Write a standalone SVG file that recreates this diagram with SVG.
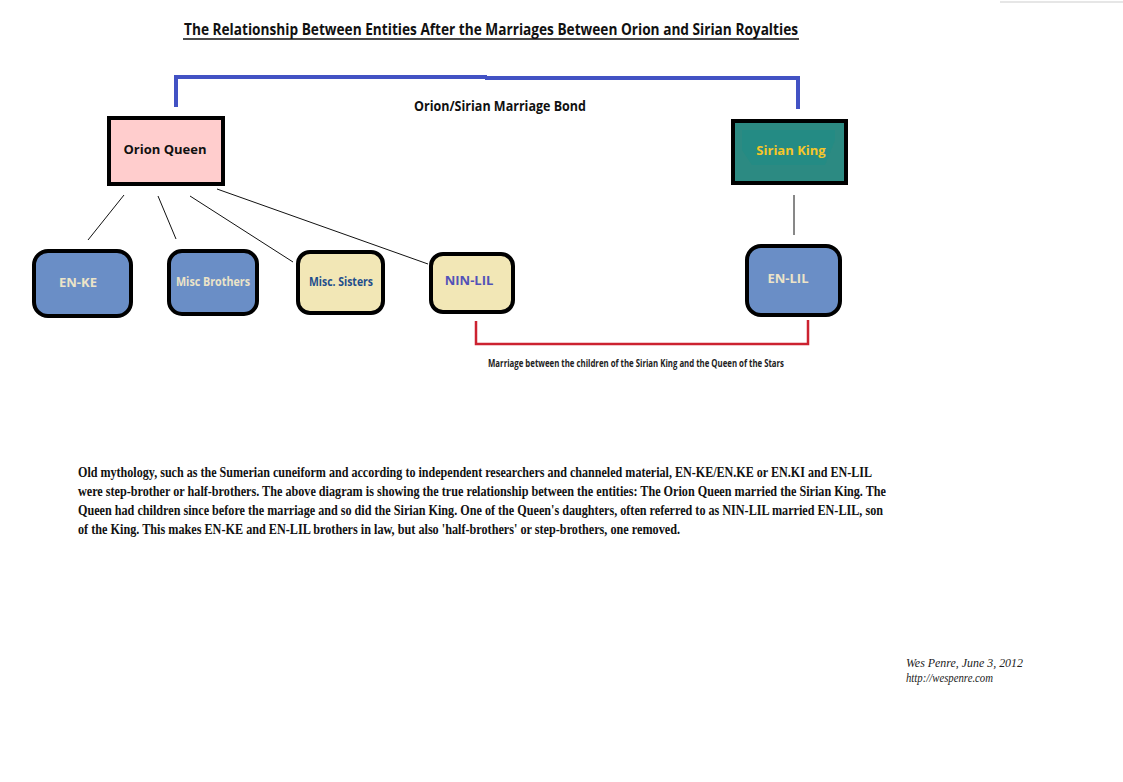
<svg xmlns="http://www.w3.org/2000/svg" width="1123" height="782" viewBox="0 0 1123 782">
<style>
.sans{font-family:"Open Sans","Noto Sans","Liberation Sans",sans-serif;font-weight:bold}
.box{stroke:#000;stroke-width:4}
.blue{fill:#6a8ec6}
.cream{fill:#f2e7b6}
.lbl{font-size:13px;text-anchor:middle}
.para{font-family:"Liberation Serif",serif;font-weight:bold;font-size:14.5px;fill:#111}
.sig{font-family:"Liberation Serif",serif;font-style:italic;font-size:12px;fill:#222}
.conn{stroke:#111;stroke-width:1;fill:none}
</style>
<rect width="1123" height="782" fill="#fff"/>
<line x1="1000" y1="2" x2="1123" y2="2" stroke="#e6e6e6" stroke-width="2"/>
<g id="title">
<text class="sans" x="491" y="35" font-size="16" text-anchor="middle" textLength="614" lengthAdjust="spacingAndGlyphs" fill="#111">The Relationship Between Entities After the Marriages Between Orion and Sirian Royalties</text>
<line x1="183" y1="39" x2="799" y2="39" stroke="#111" stroke-width="1.5"/>
</g>
<g id="connectors">
<path d="M176,107 V77 H487 M487,76 V78 H798 V109" fill="none" stroke="#4252c4" stroke-width="4"/>
<text class="sans" x="500" y="111" font-size="14" text-anchor="middle" textLength="172" lengthAdjust="spacingAndGlyphs" fill="#111">Orion/Sirian Marriage Bond</text>
<line class="conn" x1="124" y1="195" x2="88" y2="240"/>
<line class="conn" x1="158" y1="196" x2="176" y2="239"/>
<line class="conn" x1="190" y1="196" x2="293" y2="262"/>
<line class="conn" x1="217" y1="189" x2="428" y2="264"/>
<line class="conn" x1="794" y1="195" x2="794" y2="235"/>
<path d="M476,321 V344 H808 V320" fill="none" stroke="#cc2230" stroke-width="2.5"/>
<text class="sans" x="636" y="367" font-size="10" text-anchor="middle" textLength="296" lengthAdjust="spacingAndGlyphs" fill="#222" font-weight="normal">Marriage between the children of the Sirian King and the Queen of the Stars</text>
</g>
<g id="orion-queen">
<rect class="box" x="109" y="118" width="114" height="66" fill="#ffcdcd"/>
<text class="sans lbl" x="165" y="154" font-size="14" fill="#111">Orion Queen</text>
</g>
<g id="sirian-king">
<rect class="box" x="733" y="121" width="113" height="62" fill="#2c8a82"/>
<path d="M742,130 H835 V140 L825,165 H752 L742,150 Z" fill="#1f8c86" opacity="0.6"/>
<text class="sans lbl" x="791" y="155" font-size="13" fill="#f5c62a">Sirian King</text>
</g>
<g id="en-ke">
<rect class="box blue" x="34" y="251" width="97" height="65" rx="14"/>
<text class="sans lbl" x="78" y="287" fill="#ece4c8">EN-KE</text>
</g>
<g id="misc-brothers">
<rect class="box blue" x="169" y="251" width="88" height="63" rx="13"/>
<text class="sans" x="213" y="286" font-size="12" text-anchor="middle" textLength="74" lengthAdjust="spacingAndGlyphs" fill="#ece4c8">Misc Brothers</text>
</g>
<g id="misc-sisters">
<rect class="box cream" x="298" y="252" width="85" height="61" rx="12"/>
<text class="sans" x="341" y="286" font-size="12" text-anchor="middle" textLength="64" lengthAdjust="spacingAndGlyphs" fill="#1f4e8c">Misc. Sisters</text>
</g>
<g id="nin-lil">
<rect class="box cream" x="431" y="254" width="82" height="58" rx="12"/>
<text class="sans lbl" x="469" y="285" font-size="12" fill="#5252b8">NIN-LIL</text>
</g>
<g id="en-lil">
<rect class="box blue" x="747" y="246" width="93" height="69" rx="14"/>
<text class="sans lbl" x="788" y="283" fill="#ece4c8">EN-LIL</text>
</g>
<g id="paragraph">
<text class="para" x="78" y="477" textLength="794" lengthAdjust="spacingAndGlyphs">Old mythology, such as the Sumerian cuneiform and according to independent researchers and channeled material, EN-KE/EN.KE or EN.KI and EN-LIL</text>
<text class="para" x="78" y="496" textLength="808" lengthAdjust="spacingAndGlyphs">were step-brother or half-brothers. The above diagram is showing the true relationship between the entities: The Orion Queen married the Sirian King. The</text>
<text class="para" x="78" y="515" textLength="805" lengthAdjust="spacingAndGlyphs">Queen had children since before the marriage and so did the Sirian King. One of the Queen's daughters, often referred to as NIN-LIL married EN-LIL, son</text>
<text class="para" x="78" y="534" textLength="602" lengthAdjust="spacingAndGlyphs">of the King. This makes EN-KE and EN-LIL brothers in law, but also 'half-brothers' or step-brothers, one removed.</text>
</g>
<g id="signature">
<text class="sig" x="906" y="667" textLength="117" lengthAdjust="spacingAndGlyphs">Wes Penre, June 3, 2012</text>
<text class="sig" x="906" y="682" textLength="87" lengthAdjust="spacingAndGlyphs">http://wespenre.com</text>
</g>
</svg>
